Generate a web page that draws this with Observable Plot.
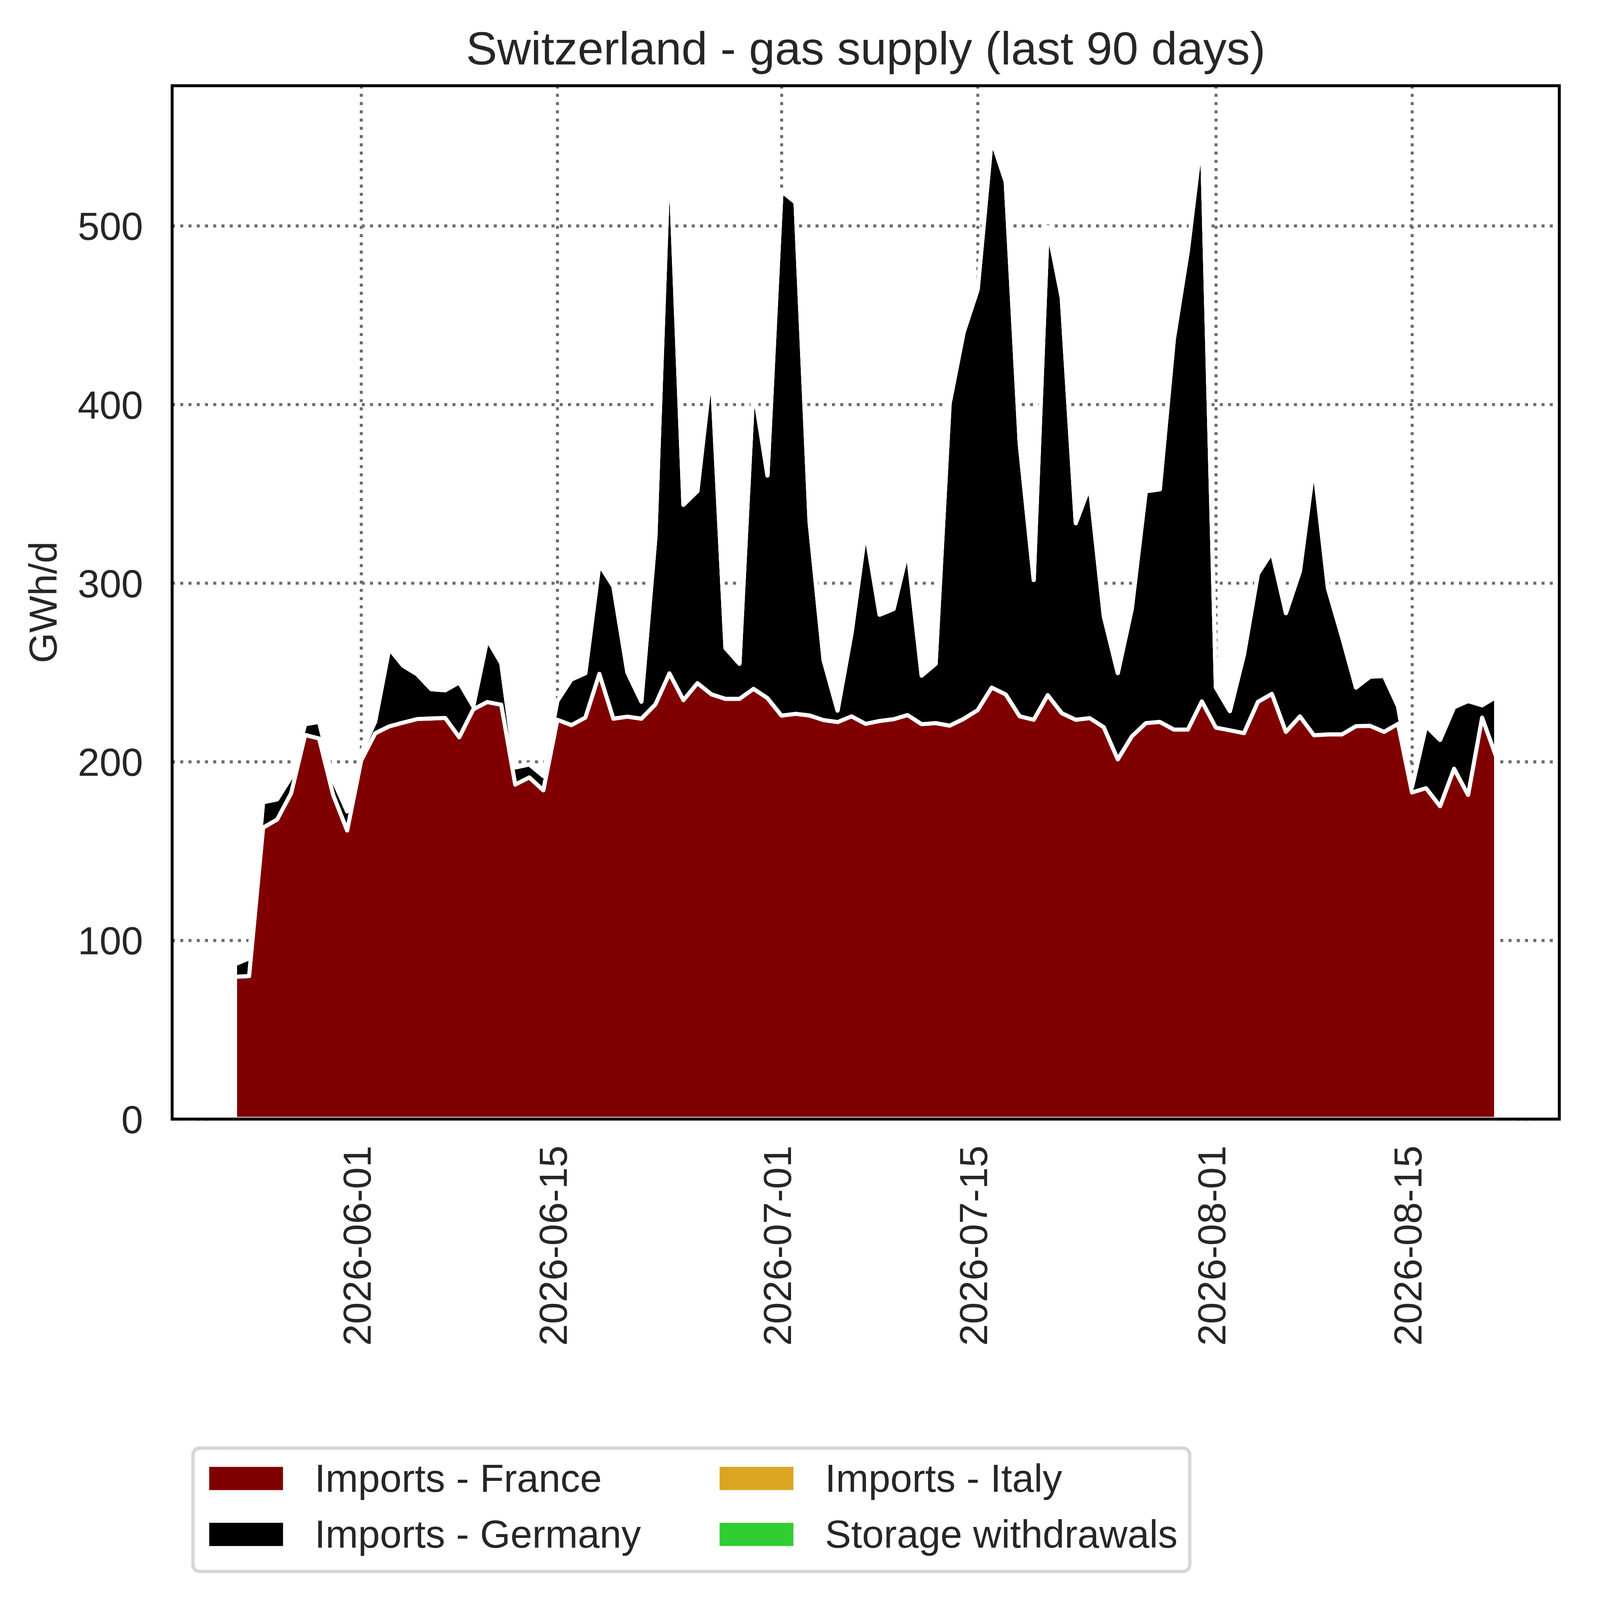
<!DOCTYPE html>
<html><head><meta charset="utf-8">
<script src="https://cdn.jsdelivr.net/npm/d3@7"></script>
<script src="https://cdn.jsdelivr.net/npm/@observablehq/plot@0.6"></script>
<style>
html,body{margin:0;padding:0;background:#fff;overflow:hidden;}
#wrap{position:absolute;left:0;top:0;width:5675px;height:5721px;transform-origin:0 0;font-family:"Liberation Sans",Arial,sans-serif;background:#fff;}
#legend{position:absolute;left:684px;top:5172px;width:3576px;height:453px;box-sizing:border-box;border:12px solid #d6d6d6;border-radius:30px;background:#fff;}
.sw{position:absolute;width:264px;height:83px;}
.lt{position:absolute;font-size:140px;line-height:140px;color:#262626;white-space:nowrap;font-family:"Liberation Sans",Arial,sans-serif;}
</style></head><body><div id="wrap"></div>
<script>
const title = "Switzerland - gas supply (last 90 days)";
const yLabel = "GWh/d";
const dates = [
"2026-05-23","2026-05-24","2026-05-25","2026-05-26","2026-05-27","2026-05-28","2026-05-29","2026-05-30","2026-05-31",
"2026-06-01","2026-06-02","2026-06-03","2026-06-04","2026-06-05","2026-06-06","2026-06-07","2026-06-08","2026-06-09","2026-06-10",
"2026-06-11","2026-06-12","2026-06-13","2026-06-14","2026-06-15","2026-06-16","2026-06-17","2026-06-18","2026-06-19","2026-06-20",
"2026-06-21","2026-06-22","2026-06-23","2026-06-24","2026-06-25","2026-06-26","2026-06-27","2026-06-28","2026-06-29","2026-06-30",
"2026-07-01","2026-07-02","2026-07-03","2026-07-04","2026-07-05","2026-07-06","2026-07-07","2026-07-08","2026-07-09","2026-07-10",
"2026-07-11","2026-07-12","2026-07-13","2026-07-14","2026-07-15","2026-07-16","2026-07-17","2026-07-18","2026-07-19","2026-07-20",
"2026-07-21","2026-07-22","2026-07-23","2026-07-24","2026-07-25","2026-07-26","2026-07-27","2026-07-28","2026-07-29","2026-07-30",
"2026-07-31","2026-08-01","2026-08-02","2026-08-03","2026-08-04","2026-08-05","2026-08-06","2026-08-07","2026-08-08","2026-08-09",
"2026-08-10","2026-08-11","2026-08-12","2026-08-13","2026-08-14","2026-08-15","2026-08-16","2026-08-17","2026-08-18","2026-08-19",
"2026-08-20","2026-08-21"];
const importsFrance = [
79.6,80.0,163.1,167.6,182.3,215.0,213.0,181.5,161.5,
200.7,215.9,219.8,221.9,223.9,224.2,224.5,213.7,229.3,233.4,
231.9,187.2,191.2,184.0,223.5,220.5,224.7,249.2,224.1,225.2,
224.1,232.1,249.5,234.5,244.0,237.7,235.2,235.2,240.8,235.6,
225.8,226.8,225.9,223.3,222.2,225.4,221.2,222.8,223.8,226.1,
221.0,221.6,220.2,224.0,228.9,241.5,237.7,225.4,223.5,237.3,
227.2,223.5,224.4,219.3,201.3,214.2,221.6,222.3,218.0,218.0,
233.8,219.1,217.6,216.0,233.5,238.0,216.7,225.4,214.8,215.3,
215.3,219.9,220.1,216.7,221.2,182.8,185.2,175.1,196.1,181.4,
224.7,203.0];
const importsGermany = [
7.1,9.9,14.2,11.3,9.1,6.0,9.3,8.3,10.7,
4.3,6.6,43.5,31.8,25.0,16.4,15.5,30.7,1.7,35.1,
23.2,9.6,7.3,8.0,10.5,25.5,24.8,61.3,74.0,24.8,
9.5,93.4,297.5,109.3,107.5,182.7,28.4,19.6,169.2,124.6,
293.7,286.2,108.6,33.7,6.4,46.6,108.2,59.5,61.7,92.2,
27.2,33.2,180.3,216.4,235.4,306.8,287.0,152.6,78.2,262.0,
232.5,110.0,129.9,62.2,48.3,71.4,129.8,130.2,218.5,268.0,
316.9,22.4,10.7,43.8,71.7,79.3,66.5,81.3,151.2,81.7,
54.7,21.6,27.5,31.3,9.8,3.2,34.8,37.1,34.4,52.6,
6.9,33.3];
const importsItaly = [
0,0,0,0,0,0,0,0,0, 0,0,0,0,0,0,0,0,0,0, 0,0,0,0,0,0,0,0,0,0, 0,0,0,0,0,0,0,0,0,0,
0,0,0,0,0,0,0,0,0,0, 0,0,0,0,0,0,0,0,0,0, 0,0,0,0,0,0,0,0,0,0, 0,0,0,0,0,0,0,0,0,0,
0,0,0,0,0,0,0,0,0,0, 0,0];
const storageWithdrawals = [
0,0,0,0,0,0,0,0,0, 0,0,0,0,0,0,0,0,0,0, 0,0,0,0,0,0,0,0,0,0, 0,0,0,0,0,0,0,0,0,0,
0,0,0,0,0,0,0,0,0,0, 0,0,0,0,0,0,0,0,0,0, 0,0,0,0,0,0,0,0,0,0, 0,0,0,0,0,0,0,0,0,0,
0,0,0,0,0,0,0,0,0,0, 0,0];
const seriesNames = ["Imports - France","Imports - Germany","Imports - Italy","Storage withdrawals"];
const seriesColors = ["#800000","#000000","#daa520","#32cd32"];
const yTicks = [0,100,200,300,400,500];
const xTickLabels = ["2026-06-01","2026-06-15","2026-07-01","2026-07-15","2026-08-01","2026-08-15"];
const xDomain = ["2026-05-18T12:00:00Z","2026-08-25T12:00:00Z"];
const yDomain = [0,578.5];

const FONT = "Liberation Sans, Arial, sans-serif";
const TXT = "#262626";
const GRID = "#6b6b6b";
const W = 5675, H = 5721;
const M = {left:615, right:100, top:306, bottom:1720};

const seriesValues = [importsFrance, importsGermany, importsItaly, storageWithdrawals];
const table = [];
seriesNames.forEach((name, s) => {
  dates.forEach((d, i) => table.push({date: new Date(d + "T00:00:00Z"), series: name, value: seriesValues[s][i]}));
});
const tickDates = xTickLabels.map(d => new Date(d + "T00:00:00Z"));

const chart = Plot.plot({
  width: W, height: H,
  marginLeft: M.left, marginRight: M.right, marginTop: M.top, marginBottom: M.bottom,
  style: {fontFamily: FONT, background: "#fff", overflow: "visible", display: "block"},
  x: {type: "utc", domain: xDomain.map(d => new Date(d)), axis: null},
  y: {domain: yDomain, axis: null},
  color: {domain: seriesNames, range: seriesColors},
  marks: [
    Plot.ruleY(yTicks, {y: d => d, stroke: GRID, strokeWidth: 10.7, strokeDasharray: "10.7 18.8"}),
    Plot.ruleX(tickDates, {x: d => d, stroke: GRID, strokeWidth: 10.7, strokeDasharray: "10.7 18.8"}),
    Plot.areaY(table, Plot.stackY({x: "date", y: "value", fill: "series", z: "series",
      stroke: "white", strokeWidth: 14.5, strokeLinejoin: "round", curve: "linear"})),
    Plot.frame({stroke: "black", strokeWidth: 10.5}),
    Plot.text(yTicks, {y: d => d, text: d => String(d), frameAnchor: "left", textAnchor: "end",
      lineAnchor: "bottom", dx: -104, dy: 50, fontSize: 140, fill: TXT, fontFamily: FONT}),
    Plot.text([title], {frameAnchor: "top", textAnchor: "middle", lineAnchor: "bottom",
      dy: -76, fontSize: 167, fill: TXT, fontFamily: FONT})
  ]
});

const wrap = document.getElementById("wrap");
wrap.appendChild(chart);
chart.setAttribute("width", W);
chart.setAttribute("height", H);
chart.style.width = W + "px";
chart.style.height = H + "px";
chart.style.maxWidth = "none";

// rotated labels placed with the chart's own scales
const xs = chart.scale("x");
const svg = d3.select(chart);
const frameBottom = H - M.bottom;
svg.append("g").selectAll("text").data(xTickLabels).join("text")
  .attr("transform", d => `translate(${xs.apply(new Date(d + "T00:00:00Z")) + 34},${frameBottom + 95}) rotate(-90)`)
  .attr("text-anchor", "end")
  .attr("font-size", 140).attr("font-family", FONT).attr("fill", TXT)
  .text(d => d);
svg.append("text")
  .attr("transform", `translate(202,${(M.top + frameBottom) / 2}) rotate(-90)`)
  .attr("text-anchor", "middle")
  .attr("font-size", 140).attr("font-family", FONT).attr("fill", TXT)
  .text(yLabel);

// legend
const legend = document.createElement("div");
legend.id = "legend";
wrap.appendChild(legend);
const legendPos = [[748,5245,1125,5215.5],[748,5445,1125,5416],[2573,5245,2950,5215.5],[2573,5445,2950,5416]];
[0,1,2,3].forEach((s, k) => {
  const [sx, sy, tx, ty] = legendPos[k];
  const sw = document.createElement("div");
  sw.className = "sw"; sw.style.left = sx + "px"; sw.style.top = sy + "px"; sw.style.background = seriesColors[s];
  wrap.appendChild(sw);
  const lt = document.createElement("div");
  lt.className = "lt"; lt.style.left = tx + "px"; lt.style.top = ty + "px"; lt.textContent = seriesNames[s];
  wrap.appendChild(lt);
});

// fit the 5675x5721 drawing to the actual viewport
function fit() {
  const vw = document.documentElement.clientWidth || window.innerWidth;
  const vh = document.documentElement.clientHeight || window.innerHeight;
  const s = Math.min(vw / W, vh / H);
  wrap.style.transform = `scale(${s})`;
}
fit();
window.addEventListener("resize", fit);
</script></body></html>
